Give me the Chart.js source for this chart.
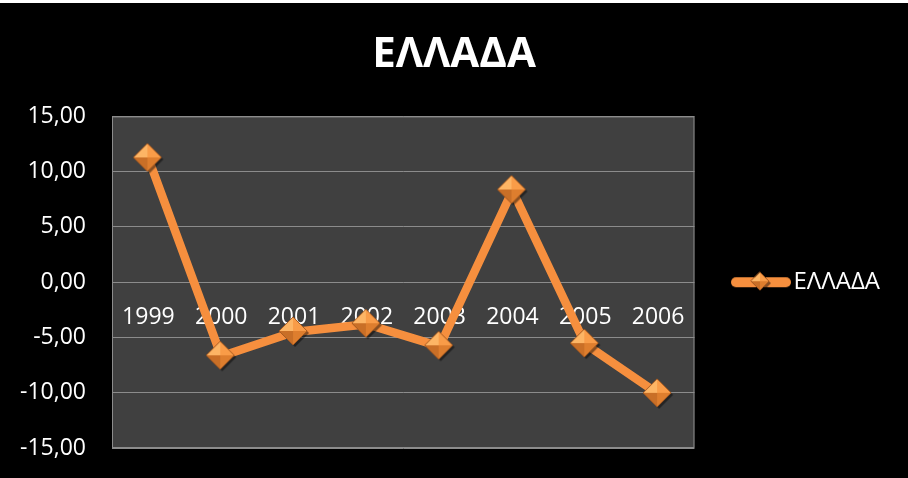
<!DOCTYPE html>
<html>
<head>
<meta charset="utf-8">
<script src="https://cdn.jsdelivr.net/npm/chart.js@4/dist/chart.umd.min.js"></script>
<style>
    html, body { margin: 0; padding: 0; background: #fff; }
    #wrap { position: absolute; left: 0; top: 3px; width: 908px; height: 475px; background: #000; }
</style>
</head>
<body>
<div id="wrap"><canvas id="chart"></canvas></div>
<script>
var seriesName = 'ΕΛΛΑΔΑ';
var years = ['1999', '2000', '2001', '2002', '2003', '2004', '2005', '2006'];
var values = [11.2, -6.7, -4.5, -3.8, -5.8, 8.3, -5.6, -10.1];
var yTicks = [-15, -10, -5, 0, 5, 10, 15];

var FONT = "'Open Sans', 'Noto Sans', sans-serif";
var ORANGE = '#F68F3E';

// beveled diamond marker, like Excel's 3D diamond
function drawDiamond(g, cx, cy, r) {
    g.fillStyle = 'rgba(0,0,0,0.45)';
    g.beginPath();
    g.moveTo(cx + 2, cy - r + 2); g.lineTo(cx + r + 2, cy + 2);
    g.lineTo(cx + 2, cy + r + 2); g.lineTo(cx - r + 2, cy + 2);
    g.closePath(); g.fill();
    var facets = [
        [[cx - r, cy], [cx, cy - r], '#FDB565'],
        [[cx, cy - r], [cx + r, cy], '#F99C48'],
        [[cx + r, cy], [cx, cy + r], '#DE7E2E'],
        [[cx, cy + r], [cx - r, cy], '#C96F27']
    ];
    facets.forEach(function (f) {
        g.fillStyle = f[2];
        g.beginPath();
        g.moveTo(f[0][0], f[0][1]); g.lineTo(f[1][0], f[1][1]); g.lineTo(cx, cy);
        g.closePath(); g.fill();
    });
    g.strokeStyle = '#A5581F';
    g.lineWidth = 1;
    g.beginPath();
    g.moveTo(cx, cy - r); g.lineTo(cx + r, cy); g.lineTo(cx, cy + r); g.lineTo(cx - r, cy);
    g.closePath(); g.stroke();
}

function makeMarker(r) {
    var c = document.createElement('canvas');
    c.width = r * 2 + 6; c.height = r * 2 + 6;
    drawDiamond(c.getContext('2d'), r + 2, r + 2, r);
    return c;
}

function makeLegendIcon() {
    var c = document.createElement('canvas');
    c.width = 62; c.height = 24;
    var g = c.getContext('2d');
    g.strokeStyle = ORANGE;
    g.lineWidth = 10;
    g.lineCap = 'round';
    g.beginPath(); g.moveTo(6, 12); g.lineTo(56, 12); g.stroke();
    drawDiamond(g, 30, 11, 9);
    return c;
}

var marker = makeMarker(14);
var legendIcon = makeLegendIcon();

var plotBg = {
    id: 'plotBg',
    beforeLayout: function (chart) {
        // leave some empty room right of the legend text, like the original
        var lg = chart.legend;
        if (lg && !lg._wider) {
            var fit = lg.fit;
            lg.fit = function () { fit.call(this); this.width += 18; };
            lg._wider = true;
        }
    },
    beforeDraw: function (chart) {
        var a = chart.chartArea, ctx = chart.ctx;
        ctx.save();
        ctx.fillStyle = '#404040';
        ctx.fillRect(a.left, a.top, a.right - a.left, a.bottom - a.top);
        ctx.strokeStyle = '#8c8c8c';
        ctx.lineWidth = 1;
        ctx.strokeRect(a.left + 0.5, a.top + 0.5, a.right - a.left - 1, a.bottom - a.top - 1);
        ctx.restore();
    }
};

new Chart(document.getElementById('chart'), {
    type: 'line',
    data: {
        labels: years,
        datasets: [{
            label: seriesName,
            data: values,
            borderColor: ORANGE,
            backgroundColor: ORANGE,
            borderWidth: 8.5,
            borderJoinStyle: 'round',
            tension: 0,
            pointStyle: marker,
            pointRadius: 14,
            pointHoverRadius: 14
        }]
    },
    options: {
        responsive: true,
        maintainAspectRatio: false,
        animation: false,
        layout: { padding: { left: 0, right: 0, top: 0, bottom: 30 } },
        plugins: {
            title: {
                display: true,
                text: seriesName,
                color: '#fff',
                font: { family: FONT, size: 42, weight: 'bold' },
                padding: { top: 27, bottom: 36 }
            },
            legend: {
                position: 'right',
                align: 'center',
                fullSize: false,
                labels: {
                    usePointStyle: true,
                    pointStyleWidth: 41,
                    padding: 46,
                    color: '#fff',
                    font: { family: FONT, size: 24 },
                    generateLabels: function (chart) {
                        var items = Chart.defaults.plugins.legend.labels.generateLabels(chart);
                        items.forEach(function (it) { it.pointStyle = legendIcon; });
                        return items;
                    }
                }
            },
            tooltip: { enabled: false }
        },
        scales: {
            x: {
                position: { y: 0 },
                offset: true,
                grid: { display: false, drawTicks: false },
                border: { display: false },
                ticks: { color: '#fff', font: { family: FONT, size: 23 }, padding: 21, maxRotation: 0 }
            },
            y: {
                min: yTicks[0],
                max: yTicks[yTicks.length - 1],
                grid: { color: '#8c8c8c', drawTicks: false },
                border: { display: true, color: '#8c8c8c' },
                ticks: {
                    stepSize: 5,
                    color: '#fff',
                    font: { family: FONT, size: 23 },
                    padding: 26,
                    callback: function (v) { return v.toFixed(2).replace('.', ','); }
                },
                afterFit: function (scale) {
                    scale.width = 112;
                    // the tick padding is horizontal only; don't let it push the plot up
                    scale.paddingTop = 14;
                    scale.paddingBottom = 14;
                }
            }
        }
    },
    plugins: [plotBg]
});
</script>
</body>
</html>
